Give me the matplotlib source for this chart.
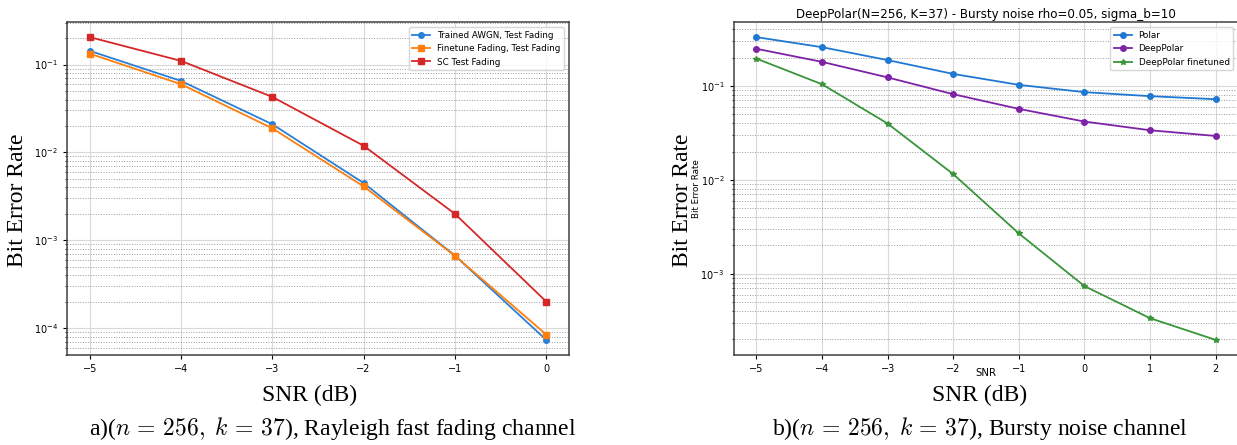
import matplotlib
matplotlib.use('Agg')
import matplotlib.pyplot as plt

matplotlib.rcParams['mathtext.fontset'] = 'cm'
matplotlib.rcParams['xtick.labelsize'] = 7
matplotlib.rcParams['ytick.labelsize'] = 7
matplotlib.rcParams['xtick.major.size'] = 3
matplotlib.rcParams['ytick.major.size'] = 3
matplotlib.rcParams['ytick.minor.size'] = 1.8

# a) Rayleigh fast fading
snr_a = [-5, -4, -3, -2, -1, 0]
ber_awgn = [0.143, 0.065, 0.0209, 0.00448, 0.00067, 0.0000736]
ber_finetune = [0.133, 0.0597, 0.0188, 0.0041, 0.000667, 0.0000847]
ber_sc = [0.205, 0.110, 0.0428, 0.0119, 0.0020, 0.000201]

# b) Bursty noise
snr_b = [-5, -4, -3, -2, -1, 0, 1, 2]
ber_polar = [0.330, 0.258, 0.188, 0.134, 0.1025, 0.0857, 0.0777, 0.0721]
ber_deeppolar = [0.248, 0.180, 0.123, 0.0815, 0.0569, 0.0417, 0.0337, 0.0293]
ber_deeppolar_ft = [0.195, 0.104, 0.0397, 0.0115, 0.00269, 0.00074, 0.000337, 0.000198]

W, H = 1237, 445
fig = plt.figure(figsize=(W / 100, H / 100), dpi=100)

serif = 'Liberation Serif'
big = 17


def style(ax):
    ax.set_yscale('log')
    ax.grid(True, which='major', linestyle='-', color='0.85', linewidth=0.8)
    ax.grid(True, which='minor', linestyle=':', color='0.6', linewidth=0.7)
    for s in ax.spines.values():
        s.set_color('0.25')
        s.set_linewidth(1.1)


# left panel
ax1 = fig.add_axes([67 / W, (H - 355) / H, 502 / W, 333 / H])
ax1.plot(snr_a, ber_awgn, '-o', color='#2a7fd6', ms=4, lw=1.3, label='Trained AWGN, Test Fading')
ax1.plot(snr_a, ber_finetune, '-s', color='#ff7f0e', ms=4, lw=1.3, label='Finetune Fading, Test Fading')
ax1.plot(snr_a, ber_sc, '-s', color='#d62728', ms=4, lw=1.3, label='SC Test Fading')
style(ax1)
ax1.legend(loc='upper right', fontsize=6.3, framealpha=0.8, borderaxespad=0.6)

# right panel
ax2 = fig.add_axes([733.5 / W, (H - 355) / H, 505 / W, 333 / H])
ax2.plot(snr_b, ber_polar, '-o', color='#1f78d1', ms=4, lw=1.3, label='Polar')
ax2.plot(snr_b, ber_deeppolar, '-o', color='#7e22a6', ms=4, lw=1.3, label='DeepPolar')
ax2.plot(snr_b, ber_deeppolar_ft, '-*', color='#3a943a', ms=4, lw=1.3, label='DeepPolar finetuned')
style(ax2)
ax2.legend(loc='upper right', fontsize=6.4, framealpha=0.8, borderaxespad=0.6)
ax2.set_title('DeepPolar(N=256, K=37) - Bursty noise rho=0.05, sigma_b=10', fontsize=8.6, pad=3)
ax2.set_xlabel('SNR', fontsize=7.3)
ax2.set_ylabel('Bit Error Rate', fontsize=6.3)
ax2.xaxis.set_label_coords(0.5, -0.038)
ax2.yaxis.set_label_coords(-0.064, 0.5)

# big serif labels and captions
fig.text(18 / W, 1 - 200 / H, 'Bit Error Rate', rotation=90, ha='center', va='center',
         family=serif, fontsize=big)
fig.text(682 / W, 1 - 200 / H, 'Bit Error Rate', rotation=90, ha='center', va='center',
         family=serif, fontsize=big)
fig.text(310 / W, 1 - 395 / H, 'SNR (dB)', ha='center', va='center', family=serif, fontsize=big)
fig.text(980 / W, 1 - 395 / H, 'SNR (dB)', ha='center', va='center', family=serif, fontsize=big)
fig.text(333 / W, 1 - 428 / H, r'a)($n\,=\,256,\;k\,=\,37$), Rayleigh fast fading channel',
         ha='center', va='center', family=serif, fontsize=big)
fig.text(980 / W, 1 - 428 / H, r'b)($n\,=\,256,\;k\,=\,37$), Bursty noise channel',
         ha='center', va='center', family=serif, fontsize=big)

fig.savefig('out.png', dpi=100)
